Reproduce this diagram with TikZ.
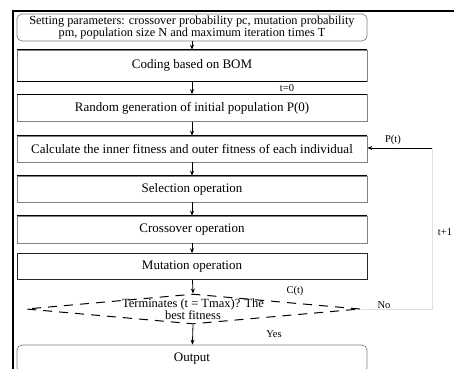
\documentclass[tikz,border=0pt]{standalone}
\usepackage{fontspec}
\setmainfont{Liberation Serif}
\usetikzlibrary{shapes.geometric,arrows.meta}
\begin{document}
\begin{tikzpicture}[x=1pt,y=-1pt,
  box/.style={draw=black!50, line width=0.7pt, minimum width=350pt, inner sep=0pt,
    font=\fontsize{13}{14}\selectfont, align=center},
  rbox/.style={box, rounded corners=5pt},
  topline/.style={draw=black, line width=1pt},
  arr/.style={draw=black, line width=0.8pt, -{Stealth[length=5pt,width=4pt]}},
  lab/.style={font=\fontsize{10.5}{12}\selectfont, inner sep=1pt},
  faint/.style={draw=black!12, line width=0.6pt}]
\useasboundingbox (0,0) rectangle (454,368);
% frame
\draw[line width=2.4pt] (454,11) -- (13,11) -- (13,370);
% boxes
\node[rbox, minimum height=27pt, font=\fontsize{12.3}{12.5}\selectfont] (b1) at (192,27.5)
  {Setting parameters: crossover probability pc, mutation probability\\pm, population size N and maximum iteration times T};
\node[box, minimum height=31pt] (b2) at (192,65.5) {Coding based on BOM};
\node[box, minimum height=27pt] (b3) at (192,108) {Random generation of initial population P(0)};
\node[box, minimum height=26pt] (b4) at (192,149) {Calculate the inner fitness and outer fitness of each individual};
\node[box, minimum height=26pt] (b5) at (192,189) {Selection operation};
\node[box, minimum height=27pt] (b6) at (192,229.5) {Crossover operation};
\node[box, draw=black!85, minimum height=26pt] (b7) at (192,266.5) {Mutation operation};
\node[diamond, draw=black, line width=1pt, dash pattern=on 9pt off 7pt,
  minimum width=334pt, minimum height=30pt, inner sep=0pt] (dia) at (193,309) {};
\node[font=\fontsize{12.5}{9.5}\selectfont, align=center, inner sep=0pt] (diat) at (193,309)
  {Terminates (t = Tmax)? The\\best fitness};
\node[rbox, minimum height=27pt] (out) at (192,358.5) {Output};
% darker top and bottom rules
\foreach \n in {b2,b3,b4,b5,b6}{
  \draw[topline] (\n.north west) -- (\n.north east);
}
\draw[topline] (b2.south west) -- (b2.south east);
% connectors
\draw[arr] (b1) -- (b2);
\draw[arr] (b2) -- (b3);
\draw[arr] (b3) -- (b4);
\draw[arr] (b4) -- (b5);
\draw[arr] (b5) -- (b6);
\draw[arr] (b6) -- (b7);
\draw[arr] (b7) -- (dia.north);
\draw[arr] (dia.south) -- (out);
% loop
\coordinate (lp) at (432,309);
\coordinate (lq) at (432,148);
\draw[faint] (dia.east) -- (lp) -- (lq);
\draw[arr] (lq) -- (b4.east |- lq);
% labels
\node[lab] (l0) at (287,88) {t=0};
\node[lab] (lpt) at (393,140) {P(t)};
\node[lab] (lt1) at (445,232) {t+1};
\node[lab] (lct) at (295,291) {C(t)};
\node[lab] (lno) at (384,305) {No};
\node[lab] (lyes) at (274,334) {Yes};
\end{tikzpicture}
\end{document}
